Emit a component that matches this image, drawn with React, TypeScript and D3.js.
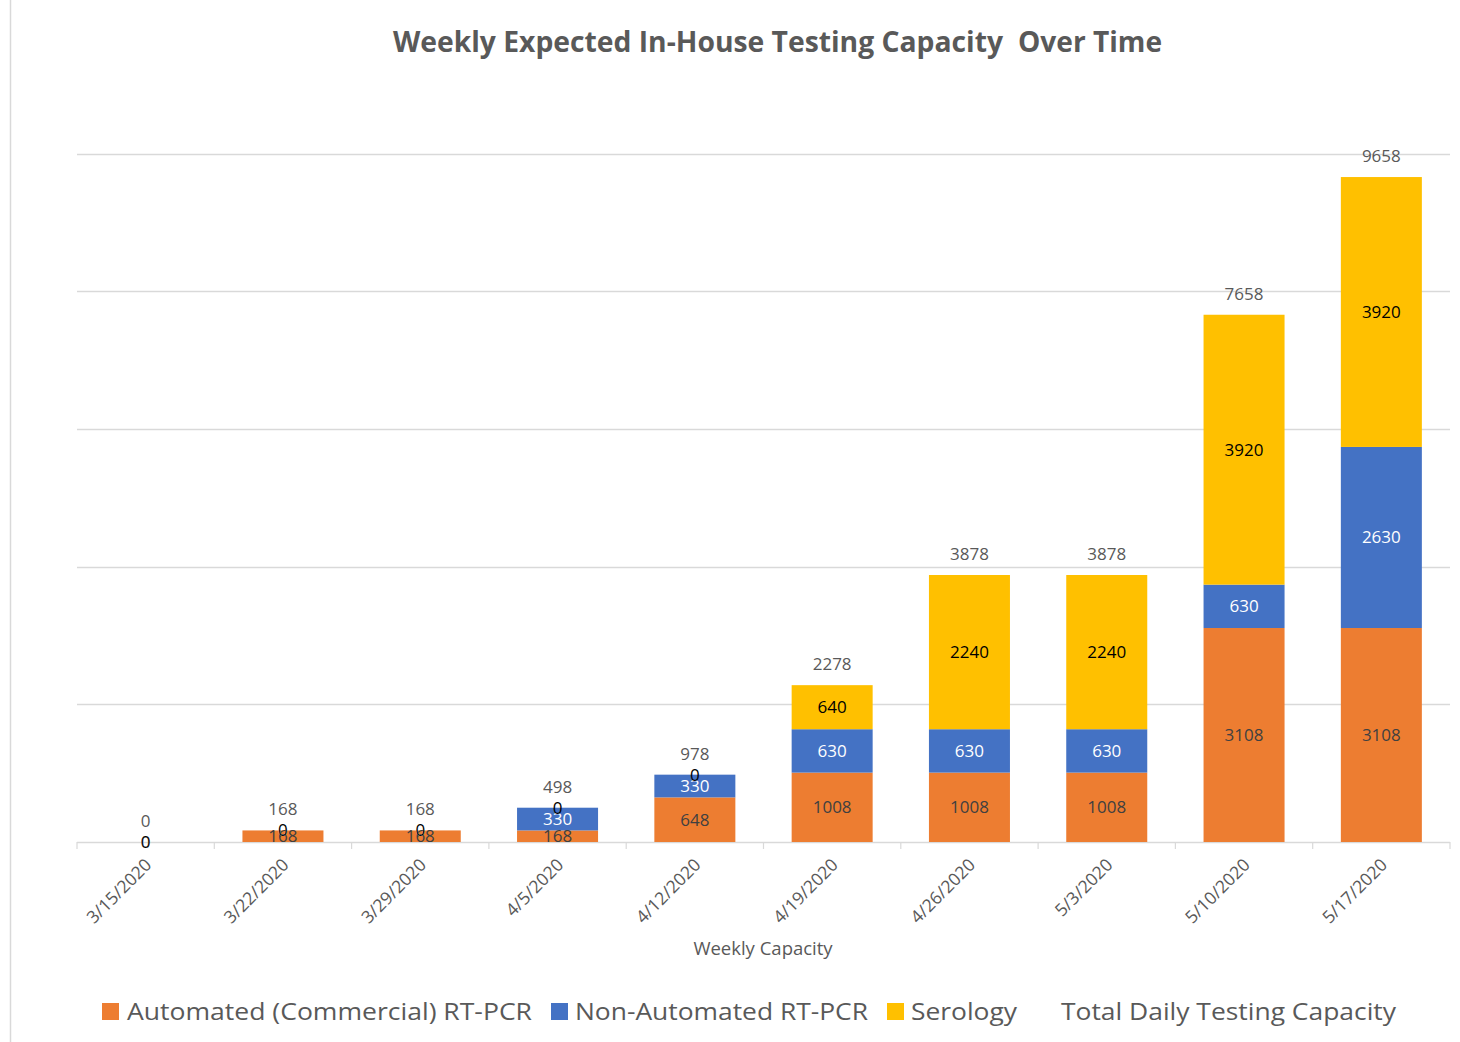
import React from "react";
import * as d3 from "d3";

const categories = ["3/15/2020","3/22/2020","3/29/2020","4/5/2020","4/12/2020","4/19/2020","4/26/2020","5/3/2020","5/10/2020","5/17/2020"];
const automated = [0,168,168,168,648,1008,1008,1008,3108,3108];
const nonAutomated = [0,0,0,330,330,630,630,630,630,2630];
const serology = [0,0,0,0,0,640,2240,2240,3920,3920];
const total = [0,168,168,498,978,2278,3878,3878,7658,9658];
const yTicks = [0,2000,4000,6000,8000,10000];

const seriesNames = ["Automated (Commercial) RT-PCR","Non-Automated RT-PCR","Serology"];
const colors = ["#ED7D31","#4472C4","#FFC000"];
const labelColors = ["#404040","#FFFFFF","#000000"];

const W = 1460, H = 1042;
const left = 77, right = 1450, top = 153.5, bottom = 842;
const FONT = "'Open Sans', 'Liberation Sans', sans-serif";

export default function App() {
  const x = d3.scaleBand<string>().domain(categories).range([left, right]).paddingInner(0.41).paddingOuter(0.205);
  const xb = d3.scaleBand<string>().domain(categories).range([left, right]);
  const y = d3.scaleLinear().domain([0, 10000]).range([bottom, top]);

  const table = categories.map((c, i) => ({ cat: c, a: automated[i], n: nonAutomated[i], s: serology[i] }));
  const stack = d3.stack<any>().keys(["a","n","s"])(table);

  const legend = [
    { sq: 102, tx: 127, w: 405, color: colors[0], label: seriesNames[0] },
    { sq: 551, tx: 575, w: 293, color: colors[1], label: seriesNames[1] },
    { sq: 887, tx: 911, w: 106, color: colors[2], label: seriesNames[2] },
    { sq: null, tx: 1061, w: 335, color: null, label: "Total Daily Testing Capacity" },
  ];

  return (
    <svg width={W} height={H} style={{ position: "absolute", left: 0, top: 0, background: "#fff" }} fontFamily={FONT}>
      <line x1={10.5} x2={10.5} y1={0} y2={H} stroke="#d9d9d9" strokeWidth={1.5} />
      <text x={393} y={52} fontSize={28} fontWeight="bold" fill="#595959">
        <tspan textLength={610} lengthAdjust="spacingAndGlyphs">Weekly Expected In-House Testing Capacity</tspan>
        <tspan x={1018} textLength={144} lengthAdjust="spacingAndGlyphs">Over Time</tspan>
      </text>
      {yTicks.map(t => (
        <line key={t} x1={left} x2={right} y1={Math.round(y(t)) + 0.5} y2={Math.round(y(t)) + 0.5} stroke="#d9d9d9" strokeWidth={1.5} />
      ))}
      {categories.map((c) => (
        <line key={"tk" + c} x1={xb(c)!} x2={xb(c)!} y1={bottom} y2={bottom + 7} stroke="#d9d9d9" strokeWidth={1.2} />
      ))}
      <line x1={right} x2={right} y1={bottom} y2={bottom + 7} stroke="#d9d9d9" strokeWidth={1.2} />
      {stack.map((layer, si) => (
        <g key={si}>
          {layer.map((d, i) => (
            <rect key={i} x={x(categories[i])!} width={x.bandwidth()} y={y(d[1])} height={y(d[0]) - y(d[1])} fill={colors[si]} />
          ))}
        </g>
      ))}
      {stack.map((layer, si) => (
        <g key={"l" + si}>
          {layer.map((d, i) => (
            <text key={i} x={x(categories[i])! + x.bandwidth() / 2} y={(y(d[0]) + y(d[1])) / 2} dy="0.35em" textAnchor="middle" fontSize={17} fill={labelColors[si]}>
              {[automated, nonAutomated, serology][si][i]}
            </text>
          ))}
        </g>
      ))}
      {total.map((v, i) => (
        <text key={"t" + i} x={x(categories[i])! + x.bandwidth() / 2} y={y(v) - 21} dy="0.35em" textAnchor="middle" fontSize={17} fill="#595959">
          {v}
        </text>
      ))}
      {categories.map((c) => {
        const cx = x(c)! + x.bandwidth() / 2 + 7;
        return (
          <text key={"xl" + c} transform={`translate(${cx},${bottom + 24}) rotate(-45)`} textAnchor="end" fontSize={17.5} fill="#595959">
            {c}
          </text>
        );
      })}
      <text x={763} y={955} textAnchor="middle" fontSize={18.5} fill="#595959">Weekly Capacity</text>
      {legend.map((l, i) => (
        <g key={"lg" + i}>
          {l.sq !== null && <rect x={l.sq} y={1003} width={17} height={17} fill={l.color!} />}
          <text x={l.tx} y={1020} fontSize={24} fill="#595959" textLength={l.w} lengthAdjust="spacingAndGlyphs">{l.label}</text>
        </g>
      ))}
    </svg>
  );
}
